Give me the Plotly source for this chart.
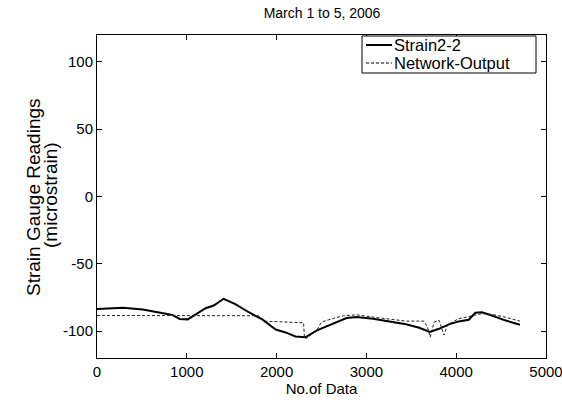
import plotly.graph_objects as go

# Strain2-2 (measured) series
x_strain = [0, 70, 290, 510, 690, 840, 920, 1010, 1100, 1210, 1300, 1410, 1540, 1690, 1840,
            1990, 2100, 2210, 2320, 2338, 2449, 2559, 2669, 2779, 2890, 3074, 3257, 3441,
            3588, 3706, 3809, 3919, 4029, 4140, 4213, 4287, 4397, 4544, 4710]
y_strain = [-83.5, -83.2, -82.7, -84, -86, -88, -91, -91.3, -87.6, -83, -81, -76, -80, -86, -91.3,
            -98.8, -101, -104, -104.5, -104, -99.5, -96.5, -93.3, -90.3, -89.6, -90.8, -92.8, -95,
            -97.5, -100.7, -98.3, -95, -92.8, -91.6, -86.4, -86, -88.4, -92, -95.3]

# Network-Output series
x_net = [0, 400, 900, 1400, 1800, 1850, 2100, 2300, 2310, 2330, 2380, 2450, 2500, 2559, 2742,
         2890, 3074, 3257, 3441, 3643, 3680, 3710, 3754, 3809, 3846, 3864, 3900, 3956, 4029,
         4103, 4176, 4287, 4397, 4544, 4710]
y_net = [-88.4, -88.4, -88.6, -88.4, -88.6, -92.6, -93.2, -93.8, -105, -105.4, -103, -99, -93.3,
         -92, -88.6, -87.9, -89.6, -91.3, -92.6, -92.6, -97, -104.5, -93.3, -92, -99.5, -103,
         -95.8, -93.3, -90.8, -89.6, -88.4, -87, -87.6, -89.6, -92.6]

series_names = ["Strain2-2", "Network-Output"]
x_ticks = [0, 1000, 2000, 3000, 4000, 5000]
y_ticks = [-100, -50, 0, 50, 100]

FONT = "Liberation Sans, Arial, sans-serif"
W, H = 562, 406
L, R, T, B = 97, 546, 35, 358  # plot box in pixels


def px(xp):
    return (xp - L) / (R - L)


def py(yp):
    return (B - yp) / (B - T)


fig = go.Figure()
fig.add_trace(go.Scatter(x=x_strain, y=y_strain, mode="lines", name=series_names[0],
                         line=dict(color="black", width=2)))
fig.add_trace(go.Scatter(x=x_net, y=y_net, mode="lines", name=series_names[1],
                         line=dict(color="#222", width=1, dash="3px,2px")))

axis_common = dict(showline=True, linecolor="black", linewidth=1, mirror="ticks",
                   ticks="inside", ticklen=5, tickcolor="black", showgrid=False,
                   zeroline=False, automargin=False, ticklabeloverflow="allow",
                   tickfont=dict(family=FONT, size=15, color="black"))

# legend drawn manually (box, sample lines, labels)
shapes = [
    dict(type="rect", xref="paper", yref="paper", x0=px(362), x1=px(536), y0=py(73), y1=py(36),
         line=dict(color="black", width=1), fillcolor="white", layer="above"),
    dict(type="line", xref="paper", yref="paper", x0=px(366), x1=px(392), y0=py(45), y1=py(45),
         line=dict(color="black", width=2), layer="above"),
    dict(type="line", xref="paper", yref="paper", x0=px(366), x1=px(392), y0=py(63), y1=py(63),
         line=dict(color="black", width=1, dash="3px,2px"), layer="above"),
]
annotations = [
    dict(text=series_names[0], xref="paper", yref="paper", x=px(393), y=py(45),
         xanchor="left", yanchor="middle", showarrow=False, borderpad=0,
         font=dict(family=FONT, size=16.5, color="black")),
    dict(text=series_names[1], xref="paper", yref="paper", x=px(393), y=py(63),
         xanchor="left", yanchor="middle", showarrow=False, borderpad=0,
         font=dict(family=FONT, size=16.5, color="black")),
    # y-axis title (two tightly spaced lines)
    dict(text="Strain Gauge Readings", xref="paper", yref="paper", x=px(33), y=py(197),
         xanchor="center", yanchor="middle", textangle=-90, showarrow=False,
         font=dict(family=FONT, size=19, color="black")),
    dict(text="(microstrain)", xref="paper", yref="paper", x=px(51), y=py(195),
         xanchor="center", yanchor="middle", textangle=-90, showarrow=False,
         font=dict(family=FONT, size=19, color="black")),
]

fig.update_layout(
    width=W, height=H,
    paper_bgcolor="white", plot_bgcolor="white",
    margin=dict(l=L, r=W - R, t=T, b=H - B, autoexpand=False),
    font=dict(family=FONT, color="black"),
    title=dict(text="March 1 to 5, 2006", x=322 / W, xanchor="center", xref="container",
               y=1 - 13 / H, yanchor="middle", font=dict(family=FONT, size=14, color="black")),
    xaxis=dict(range=[0, 5000], tickvals=x_ticks, ticktext=[str(v) for v in x_ticks],
               title=dict(text="No.of Data", font=dict(family=FONT, size=15), standoff=0),
               **axis_common),
    yaxis=dict(range=[-120, 120], tickvals=y_ticks, ticktext=[str(v) for v in y_ticks],
               **axis_common),
    showlegend=False,
    shapes=shapes,
    annotations=annotations,
)

fig.write_html("out.html", config={"displayModeBar": False},
               post_script="document.body.style.margin='0';document.body.style.overflow='hidden';")
